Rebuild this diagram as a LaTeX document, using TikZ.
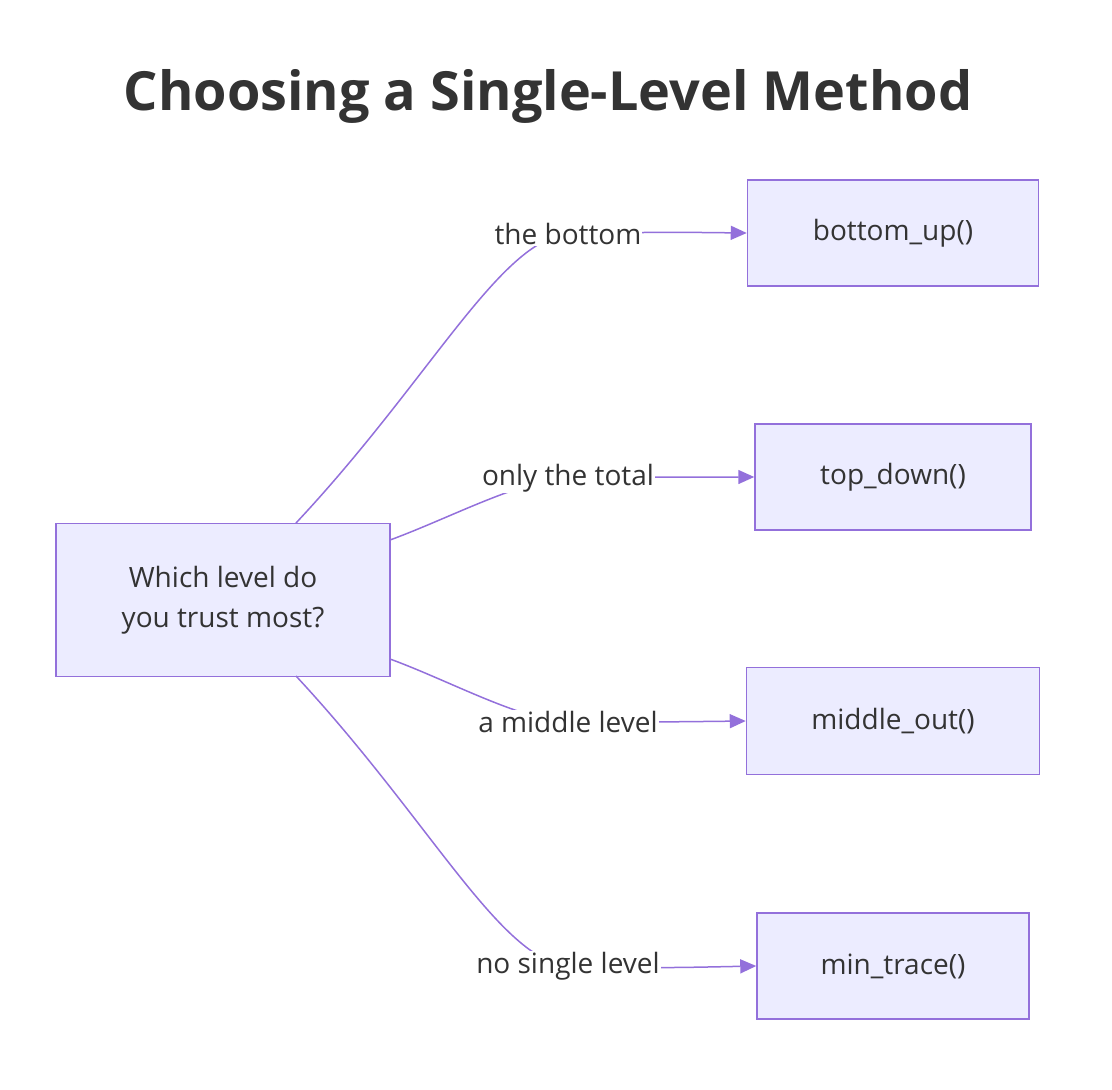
\documentclass[tikz,border=0pt]{standalone}
\usepackage{fontspec}
\setmainfont{Open Sans}
\usetikzlibrary{arrows.meta}
\definecolor{edgec}{HTML}{9370DB}
\definecolor{boxc}{HTML}{ECECFF}
\definecolor{textc}{HTML}{333333}
\tikzset{
  box/.style={draw=edgec, fill=boxc, line width=1.5pt, text=textc, font=\fontsize{28}{40}\selectfont, align=center},
  lbl/.style={fill=white, text=textc, inner sep=1pt, font=\fontsize{28}{34}\selectfont},
  link/.style={draw=edgec, line width=1.5pt, -{Triangle[length=16pt,width=14pt]}}
}
\begin{document}
\begin{tikzpicture}[x=1pt, y=-1pt]
	\useasboundingbox (0,0) rectangle (1112,1090);
	\node[text=textc, font=\bfseries\fontsize{54}{60}\selectfont] (title) at (548,96) {Choosing a Single-Level Method};

	\node[box, minimum width=334pt, minimum height=153pt] (q) at (223,600) {Which level do\\you trust most?};
	\node[box, minimum width=291pt, minimum height=106pt] (bu) at (893,233) {bottom\_up()};
	\node[box, minimum width=276pt, minimum height=106pt] (td) at (893,477) {top\_down()};
	\node[box, minimum width=293pt, minimum height=107pt] (mo) at (893,721) {middle\_out()};
	\node[box, minimum width=272pt, minimum height=106pt] (mt) at (893,966) {min\_trace()};

	\coordinate (s1) at (296,523);
	\coordinate (s2) at (390,540);
	\coordinate (s3) at (390,659);
	\coordinate (s4) at (296,676);
	\coordinate (l1) at (568,234);
	\coordinate (l2) at (568,478);
	\coordinate (l3) at (568,722);
	\coordinate (l4) at (568,966);

	\draw[link] (s1) .. controls (430,380) and (500,240) .. (l1) .. controls (660,232) .. (bu.west);
	\draw[link] (s2) .. controls (450,518) and (520,480) .. (l2) .. controls (660,477) .. (td.west);
	\draw[link] (s3) .. controls (450,681) and (520,720) .. (l3) .. controls (660,722) .. (mo.west);
	\draw[link] (s4) .. controls (430,820) and (500,960) .. (l4) .. controls (660,968) .. (mt.west);

	\node[lbl] (t1) at (l1) {the bottom};
	\node[lbl] (t2) at (l2) {only the total};
	\node[lbl] (t3) at (l3) {a middle level};
	\node[lbl] (t4) at (l4) {no single level};
\end{tikzpicture}
\end{document}
